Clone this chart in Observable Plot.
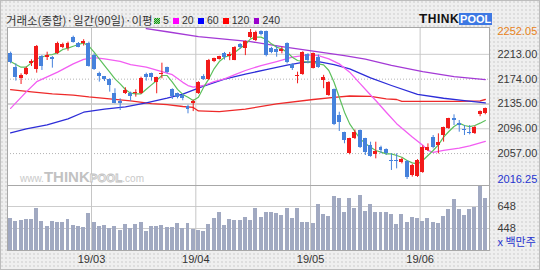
<!DOCTYPE html>
<html>
<head>
<meta charset="utf-8">
<script src="https://cdn.jsdelivr.net/npm/d3@7"></script>
<script src="https://cdn.jsdelivr.net/npm/@observablehq/plot@0.6"></script>
<style>
  html, body { margin: 0; padding: 0; background: #efefef; }
  #chart { position: relative; width: 540px; height: 270px; overflow: hidden;
    background-color: #efefef;
    background-image: radial-gradient(circle, #d6d6d6 0.6px, rgba(0,0,0,0) 0.95px);
    background-size: 4px 4px;
    box-shadow: inset 0 0 0 1px #bdbdbd;
    font-family: "Liberation Sans", Arial, sans-serif; }
  #title { position: absolute; left: 6px; top: 14px; font: 12px/12px "Noto Sans CJK KR", sans-serif; color: #333; white-space: nowrap; }
  #legend { position: absolute; left: 154.3px; top: 14px; height: 12px; display: flex; align-items: center; white-space: nowrap; }
  #legend .sq { display: inline-block; width: 5.7px; height: 5.7px; margin-right: 3px; position: relative; top: 1px; }
  #legend .num { font: 10.5px/12px "Liberation Sans", Arial, sans-serif; color: #333; margin-right: 4.5px; }
  #logo { position: absolute; left: 419px; top: 13px; height: 12px; display: flex; align-items: flex-end; }
  #logo .think { font: bold 12px/12px "Liberation Sans", Arial, sans-serif; color: #111; letter-spacing: 0.5px; }
  #logo .think .big { font-size: 13.5px; }
  #logo .pool { font: bold 11px/12px "Liberation Sans", Arial, sans-serif; color: #fff; background: #3d78e3; padding: 0 1px; height: 12px; }
  #price { position: absolute; left: 0; top: 27px; }
  #volume { position: absolute; left: 0; top: 185px; }
  #wm { position: absolute; left: 20px; top: 169px; line-height: 15px; white-space: nowrap; color: #c9c9c9; font-family: "Liberation Sans", Arial, sans-serif; pointer-events: none; }
  #wm .s { font-size: 10px; }
  #wm .t { font-size: 15px; font-weight: bold; color: #c2c2c2; }
  #wm .p { font-size: 11.5px; font-weight: bold; color: #f4f4f4; -webkit-text-stroke: 0.8px #c2c2c2; }
  svg { display: block; }
</style>
</head>
<body>
<div id="chart">
  <div id="title"><span id="titleText"></span></div>
  <div id="legend"></div>
  <div id="logo"><span class="think"><span class="big">T</span>HINK</span><span class="pool">POOL</span></div>
  <div id="price"></div>
  <div id="volume"></div>
  <div id="wm"><span class="s">www.</span><span class="t">THINK</span><span class="p">POOL</span><span class="s">.com</span></div>
</div>
<script>
// ---------------- data ----------------
const titleText = "거래소(종합)·일간(90일)·이평";
const maPeriods = ["5", "20", "60", "120", "240"];
const monthLabels = ["19/03", "19/04", "19/05", "19/06"];
const monthStart = [16, 36, 58, 79];          // index of first trading day of each month
const priceTicks = [2213.00, 2174.00, 2135.00, 2096.00, 2057.00];
const priceMax = 2252.05;
const priceMin = 2016.25;
const volTicks = [648, 448];
const volUnit = "x 백만주";

const open = [2214.9,2192.9,2175.6,2180.8,2198.1,2189.0,2209.6,2208.6,2208.6,2213.8,
  2224.3,2221.7,2240.0,2230.6,2230.5,2230.6,2211.2,2183.4,2177.6,2173.5,
  2151.0,2139.4,2152.0,2152.0,2150.9,2150.9,2180.8,2182.4,2169.3,2181.3,
  2191.8,2157.7,2151.0,2148.3,2131.0,2135.5,2151.5,2178.0,2173.5,2201.0,
  2205.5,2214.0,2210.0,2204.0,2228.0,2222.0,2240.0,2235.0,2248.9,2248.9,
  2222.7,2220.5,2217.5,2229.5,2196.6,2177.5,2181.0,2212.0,2191.2,2208.5,
  2172.0,2148.3,2157.7,2117.0,2089.7,2057.6,2080.2,2093.3,2080.0,2069.7,
  2055.0,2067.0,2062.8,2046.0,2045.5,2042.4,2044.5,2022.5,2021.5,2027.7,
  2061.8,2082.8,2069.7,2085.4,2095.9,2111.6,2103.7,2094.8,2090.6,2088.0,
  2117.9,2119.4];
const high = [2216.5,2198.1,2182.4,2192.9,2204.4,2226.9,2211.2,2216.4,2209.6,2232.2,
  2230.6,2232.2,2241.6,2231.6,2236.0,2232.2,2213.8,2185.0,2178.2,2174.5,
  2158.8,2143.1,2160.4,2153.6,2157.2,2177.1,2183.4,2183.4,2177.1,2199.1,
  2192.9,2158.8,2152.0,2150.0,2133.0,2141.0,2170.0,2181.0,2205.0,2207.0,
  2210.0,2216.0,2216.0,2225.0,2230.0,2234.0,2252.05,2249.5,2250.0,2249.5,
  2224.0,2225.8,2224.3,2231.0,2198.0,2185.0,2217.0,2214.0,2215.0,2212.0,
  2180.0,2170.0,2158.5,2122.0,2090.6,2081.0,2094.0,2094.0,2081.0,2074.9,
  2074.9,2068.6,2064.4,2056.6,2056.6,2049.7,2046.0,2040.0,2047.5,2069.0,
  2072.3,2085.4,2088.0,2098.5,2112.5,2117.9,2109.0,2101.1,2101.1,2100.0,
  2124.0,2128.5];
const low = [2198.1,2170.9,2165.6,2179.8,2193.9,2183.4,2187.6,2203.3,2191.3,2212.8,
  2221.7,2218.0,2230.6,2223.3,2226.0,2192.9,2187.6,2169.3,2170.3,2153.6,
  2135.2,2124.7,2149.9,2139.4,2145.7,2149.9,2170.9,2170.9,2151.0,2174.5,
  2182.4,2142.0,2143.0,2140.0,2119.5,2123.0,2150.0,2172.0,2172.0,2200.0,
  2204.0,2204.0,2203.0,2203.0,2221.0,2211.0,2238.0,2233.0,2242.0,2209.0,
  2214.0,2208.5,2213.8,2198.0,2187.6,2166.7,2180.0,2198.0,2190.0,2191.0,
  2159.0,2147.0,2101.0,2091.7,2072.4,2055.1,2079.0,2065.0,2054.0,2051.3,
  2048.7,2056.6,2054.0,2030.4,2033.0,2040.8,2016.25,2020.0,2019.5,2026.0,
  2060.2,2064.4,2056.6,2075.0,2095.0,2101.1,2090.6,2085.4,2086.4,2087.0,
  2115.0,2118.0];
const close = [2200.7,2176.1,2179.8,2190.2,2201.8,2225.5,2193.9,2211.2,2204.4,2230.6,
  2228.0,2229.5,2232.2,2224.3,2233.0,2194.4,2188.7,2177.6,2172.9,2164.0,
  2135.8,2136.3,2156.2,2146.7,2153.0,2175.6,2177.1,2177.1,2176.1,2182.9,
  2185.0,2147.5,2145.7,2143.1,2125.8,2139.0,2169.0,2174.0,2203.0,2206.0,
  2209.0,2208.5,2212.0,2224.0,2223.0,2232.5,2247.8,2248.0,2243.7,2211.2,
  2215.4,2216.5,2221.0,2199.7,2190.3,2179.5,2215.4,2203.3,2213.8,2192.8,
  2177.0,2169.2,2102.2,2106.3,2077.6,2080.2,2090.6,2067.0,2058.0,2052.9,
  2060.2,2061.8,2057.6,2044.5,2044.2,2047.1,2020.0,2038.2,2046.0,2067.0,
  2067.0,2067.0,2073.9,2097.4,2111.6,2109.0,2101.1,2093.2,2088.0,2098.5,
  2123.1,2127.3];
const volume = [536,514,521,533,533,630,514,463,512,503,
  503,527,478,469,454,582,503,463,472,448,
  463,433,487,445,481,503,424,463,463,478,
  454,454,493,445,496,436,433,424,487,539,
  596,478,527,518,518,548,518,630,548,596,
  596,582,566,627,542,630,503,503,493,663,
  575,557,742,724,591,718,633,748,605,666,
  596,591,591,575,487,575,505,548,542,512,
  542,505,496,557,618,715,621,569,621,642,
  830,724];

// moving averages
const ma5 = [2201.7,2197.0,2192.8,2193.0,2199.6,2206.0,2208.5,2212.0,2212.7,2215.3,
  2220.6,2222.7,2225.8,2228.4,2231.0,2225.8,2216.4,2206.0,2195.4,2185.0,
  2174.5,2166.6,2157.7,2152.0,2150.9,2151.0,2158.0,2165.0,2172.0,2179.7,
  2179.7,2169.2,2158.0,2150.0,2145.6,2140.4,2145.6,2161.4,2174.5,2190.2,
  2201.7,2208.5,2211.1,2216.4,2222.7,2228.5,2237.3,2240.0,2240.0,2236.3,
  2229.5,2224.2,2221.6,2216.4,2208.5,2203.3,2201.7,2200.7,2200.7,2198.0,
  2196.5,2187.6,2169.2,2145.6,2122.1,2103.7,2091.7,2080.1,2073.0,2067.0,
  2061.8,2059.2,2056.6,2056.6,2054.0,2051.3,2046.1,2042.4,2040.8,2046.1,
  2054.0,2061.8,2070.7,2082.8,2091.7,2099.5,2104.8,2101.1,2099.5,2101.1,
  2104.8,2109.0];
const ma20 = [[0,2128],[3,2154],[5,2170],[9,2185],[12,2198],[14,2205],[16,2208],[18,2206],
  [21,2202],[23,2197],[26,2193],[28,2188],[31,2181],[33,2169],[34,2164],[35,2161.5],
  [37,2164],[39,2170],[41,2174.5],[43,2181],[45,2187.6],[48,2195.4],[51,2201.7],[54,2208.5],
  [57,2212.2],[59,2211],[61,2206],[63,2198],[65,2185],[67,2167],[69,2149],[70,2140.4],
  [72,2122],[74,2104],[77,2083],[79,2070],[80,2062],[81,2059],[83,2062],[86,2065.5],
  [88,2069],[91,2076]];
const ma60 = [[0,2089.6],[3,2096],[7,2102],[11,2111.6],[14,2122],[18,2127],[22,2130.5],
  [26,2136.7],[30,2144],[33,2150.5],[37,2163],[41,2174],[45,2182],[49,2189],[53,2196],
  [56,2200.5],[59,2201.5],[62,2197],[65,2190],[67,2183],[69,2176],[73,2164],[78,2150],
  [83,2144],[87,2140.4],[91,2136.7]];
const ma120 = [[0,2157.5],[4,2154],[8,2151],[12,2149],[15,2146],[19,2143],[23,2140],
  [27,2135.5],[30,2134],[33,2131],[35,2129.5],[36,2124],[40,2123],[45,2127],[51,2135],
  [58,2142],[62,2145.5],[65,2147.5],[69,2147],[72,2143],[74,2142],[75,2139],[86,2139],
  [90,2140],[91,2142]];
const ma240 = [[26,2253.5],[30,2248.5],[36,2241],[41,2237],[46,2233],[52,2225],[58,2218],
  [64,2211],[68,2205.5],[73,2195.5],[79,2186],[85,2178],[91,2173.4]];

// ---------------- styles ----------------
const upColor = "#f21a1a", downColor = "#4682dc", volColor = "#a1a9c1";
const lineColors = {ma5: "#5cc05c", ma20: "#f25ef2", ma60: "#2d2dd8", ma120: "#ee2a2a", ma240: "#a43ad6"};
const legendFills = [
  "repeating-conic-gradient(#178a17 0 25%, #8fdc8f 0 50%) 0 0/2px 2px",
  "#ff00ff", "#0000ff", "#ff0000", "#9900cc"];
const font = "'Liberation Sans', Arial, sans-serif";
const xScale = {domain: [-0.6, 91.8], axis: null};
const halfBar = 0.38;
const titleWidth = 146.5;   // layout width the heading text occupies

// ---------------- header ----------------
const tspan = document.getElementById("titleText");
tspan.textContent = titleText;
{
  const w0 = tspan.getBoundingClientRect().width;
  const fs = Math.max(11, Math.min(13.5, 12 * titleWidth / w0));
  tspan.style.fontSize = fs + "px";
  const w1 = tspan.getBoundingClientRect().width;
  const ls = (titleWidth - w1) / titleText.length;
  tspan.style.letterSpacing = Math.max(-1, Math.min(1.5, ls)) + "px";
}
const legend = document.getElementById("legend");
maPeriods.forEach((p, k) => {
  const sq = document.createElement("span");
  sq.className = "sq";
  sq.style.background = legendFills[k];
  legend.appendChild(sq);
  const n = document.createElement("span");
  n.className = "num";
  n.textContent = p;
  legend.appendChild(n);
});

// ---------------- charts ----------------
const rows = open.map((o, i) => ({i, o, h: high[i], l: low[i], c: close[i], v: volume[i]}));
const up = rows.filter(d => d.c >= d.o);
const down = rows.filter(d => d.c < d.o);
const axisOpts = {anchor: "right", tickSize: 0, tickPadding: 8, label: null, tickFormat: d3.format(".2f")};

const pricePlot = Plot.plot({
  width: 540, height: 158,
  marginTop: 0, marginBottom: 0, marginLeft: 7, marginRight: 51,
  x: xScale,
  y: {domain: [priceMin, priceMax], range: [152, 2]},
  style: {background: "transparent", fontFamily: font, fontSize: "11px", overflow: "visible"},
  marks: [
    Plot.frame({fill: "white", stroke: null}),
    Plot.ruleY([priceTicks[0], priceTicks[3]], {stroke: "#cdcdcd"}),
    Plot.ruleY([priceTicks[1], priceTicks[4]], {stroke: "#b3b3b3", strokeDasharray: "1,2"}),
    Plot.ruleY([priceTicks[2]], {stroke: "#d3d3d3", strokeWidth: 2}),
    Plot.ruleX(monthStart, {x: d => d - 0.5, stroke: "#c6c6c6"}),
    Plot.line(ma240, {x: d => d[0], y: d => d[1], stroke: lineColors.ma240, strokeWidth: 1.3, clip: true}),
    Plot.line(ma120, {x: d => d[0], y: d => d[1], stroke: lineColors.ma120, strokeWidth: 1.3}),
    Plot.line(ma60, {x: d => d[0], y: d => d[1], stroke: lineColors.ma60, strokeWidth: 1.3}),
    Plot.line(ma20, {x: d => d[0], y: d => d[1], stroke: lineColors.ma20, strokeWidth: 1.3}),
    Plot.line(ma5, {x: (d, i) => i, y: d => d, stroke: lineColors.ma5, strokeWidth: 1.2}),
    Plot.ruleX(up, {x: "i", y1: "l", y2: "h", stroke: upColor}),
    Plot.ruleX(down, {x: "i", y1: "l", y2: "h", stroke: downColor}),
    Plot.rect(up, {x1: d => d.i - halfBar, x2: d => d.i + halfBar, y1: "o", y2: "c", fill: upColor, shapeRendering: "crispEdges"}),
    Plot.rect(down, {x1: d => d.i - halfBar, x2: d => d.i + halfBar, y1: "o", y2: "c", fill: downColor, shapeRendering: "crispEdges"}),
    Plot.axisY(priceTicks, {...axisOpts, fill: "#3a3a3a"}),
    Plot.axisY([priceMax], {...axisOpts, fill: "#e8821a", dy: 2}),
    Plot.axisY([priceMin], {...axisOpts, fill: "#2634d0"}),
    Plot.frame({stroke: "#a8a8a8"})
  ]
});
document.getElementById("price").appendChild(pricePlot);

const volFloor = 248, volCeil = 839;
const volumePlot = Plot.plot({
  width: 540, height: 85,
  marginTop: 0, marginBottom: 20, marginLeft: 7, marginRight: 51,
  x: xScale,
  y: {domain: [volFloor, volCeil]},
  style: {background: "transparent", fontFamily: font, fontSize: "11px", overflow: "visible"},
  marks: [
    Plot.frame({fill: "white", stroke: null}),
    Plot.ruleY(volTicks, {stroke: "#cdcdcd"}),
    Plot.ruleX(monthStart, {x: d => d - 0.5, stroke: "#c6c6c6"}),
    Plot.rect(rows, {x1: d => d.i - halfBar, x2: d => d.i + halfBar, y1: () => volFloor, y2: "v", fill: volColor, shapeRendering: "crispEdges"}),
    Plot.axisY(volTicks, {anchor: "right", tickSize: 0, tickPadding: 8, label: null, fill: "#3a3a3a"}),
    Plot.text([volUnit], {text: d => d, frameAnchor: "bottom-right", textAnchor: "start", dx: 8, dy: -5, fill: "#2634d0", fontFamily: "'Noto Sans CJK KR', sans-serif", fontSize: 11}),
    Plot.text(monthLabels, {x: (d, i) => monthStart[i] - 0.5, text: d => d, frameAnchor: "bottom", dy: 12, fill: "#333"}),
    Plot.frame({stroke: "#a8a8a8"})
  ]
});
document.getElementById("volume").appendChild(volumePlot);
</script>
</body>
</html>
